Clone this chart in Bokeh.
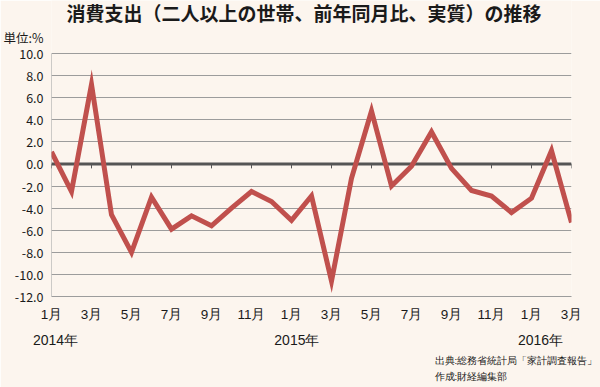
from bokeh.plotting import figure
from bokeh.models import FixedTicker, Range1d, LinearAxis, Title, Label
from bokeh.embed import file_html
from bokeh.resources import INLINE

# ---- data ----
months = ["1月", "2月", "3月", "4月", "5月", "6月", "7月", "8月", "9月", "10月", "11月", "12月",
          "1月", "2月", "3月", "4月", "5月", "6月", "7月", "8月", "9月", "10月", "11月", "12月",
          "1月", "2月", "3月"]
values = [1.1, -2.5, 7.2, -4.6, -8.0, -3.0, -5.9, -4.7, -5.6, -4.0, -2.5, -3.4,
          -5.1, -2.9, -10.6, -1.3, 4.8, -2.0, -0.2, 2.9, -0.4, -2.4, -2.9, -4.4,
          -3.1, 1.2, -5.3]
years = ["2014年", "2015年", "2016年"]
year_pos = [0.2, 12.27, 24.45]
y_ticks = [-12, -10, -8, -6, -4, -2, 0, 2, 4, 6, 8, 10]
title = "消費支出（二人以上の世帯、前年同月比、実質）の推移"
unit = "単位:%"
source_lines = ["出典:総務省統計局「家計調査報告」", "作成:財経編集部"]

x = list(range(len(values)))
tick_x = x[::2]

BG = "#FCF5EE"
JP = "Noto Sans CJK JP"
LAT = "Liberation Sans"
TXT = "#1a1a1a"
GRID = "#9c9c9c"

# layout helpers (space above the plotted area is part of the frame)
Y_TOP = 14.8       # frame top, in value units
UNIT_Y = 11.45     # where the unit text sits on the value scale
TITLE_Y = 13.68

p = figure(width=600, height=387, output_backend="svg", toolbar_location=None,
           x_range=Range1d(0, len(values) - 1), y_range=Range1d(y_ticks[0], Y_TOP),
           min_border_left=50, min_border_right=29, min_border_top=0, min_border_bottom=91)
p.title.visible = False
p.background_fill_color = BG
p.border_fill_color = BG
p.outline_line_color = None

# grid
p.xgrid.visible = False
p.ygrid.ticker = FixedTicker(ticks=y_ticks)
p.ygrid.grid_line_color = GRID
p.ygrid.grid_line_width = 1

# y axis (unit text shown as the topmost label)
overrides = {t: f"{t:.1f}" for t in y_ticks}
overrides[UNIT_Y] = unit
p.yaxis.ticker = FixedTicker(ticks=y_ticks + [UNIT_Y])
p.yaxis.major_label_overrides = overrides
p.yaxis.axis_line_color = None
p.yaxis.major_tick_line_color = None
p.yaxis.major_tick_out = 0
p.yaxis.major_tick_in = 0
p.yaxis.minor_tick_line_color = None
p.yaxis.major_label_text_font = JP
p.yaxis.major_label_text_font_size = "12.5px"
p.yaxis.major_label_text_color = TXT
p.yaxis.major_label_standoff = 8
p.yaxis.axis_label_standoff = 0
p.line(x=[x[0], x[0]], y=[y_ticks[0], y_ticks[-1]], line_color=GRID, line_width=1)

# x axis (months)
p.xaxis.ticker = FixedTicker(ticks=tick_x)
p.xaxis.major_label_overrides = {i: months[i] for i in tick_x}
p.xaxis.axis_line_color = GRID
p.xaxis.major_tick_line_color = None
p.xaxis.major_tick_out = 0
p.xaxis.minor_tick_line_color = None
p.xaxis.major_label_text_font = LAT
p.xaxis.major_label_text_font_size = "13.5px"
p.xaxis.major_label_text_color = TXT
p.xaxis.major_label_standoff = 10
p.xaxis.axis_label_standoff = 0

# year axis
year_axis = LinearAxis(ticker=FixedTicker(ticks=year_pos),
                       major_label_overrides={yp: yr for yp, yr in zip(year_pos, years)})
year_axis.axis_line_color = None
year_axis.major_tick_line_color = None
year_axis.minor_tick_line_color = None
year_axis.major_tick_out = 0
year_axis.major_tick_in = 0
year_axis.major_label_text_font = LAT
year_axis.major_label_text_font_size = "14px"
year_axis.major_label_text_color = TXT
year_axis.major_label_standoff = 7
year_axis.axis_label_standoff = 0
p.add_layout(year_axis, "below")

# source lines below
for s, so in zip(source_lines, [5, 0]):
    p.add_layout(Title(text=s, align="left", offset=383, text_font=LAT,
                       text_font_size="9.6px", text_font_style="normal", text_color=TXT,
                       standoff=so), "below")

# title inside the top of the frame
p.add_layout(Label(x=12.62, y=TITLE_Y, text=title, text_font=JP, text_font_size="19px",
                   text_font_style="bold", text_color=TXT, text_align="center",
                   text_baseline="middle"))

# zero line and its ticks
p.line(x=[x[0], x[-1]], y=[0, 0], line_color="#555555", line_width=3)
p.segment(x0=tick_x, y0=[0] * len(tick_x), x1=tick_x, y1=[-0.4] * len(tick_x),
          line_color="#555555", line_width=1)

# data line
p.line(x=x, y=values, line_color="#C0504D", line_width=5, line_join="miter")

open("out.html", "w").write(file_html(p, INLINE))
